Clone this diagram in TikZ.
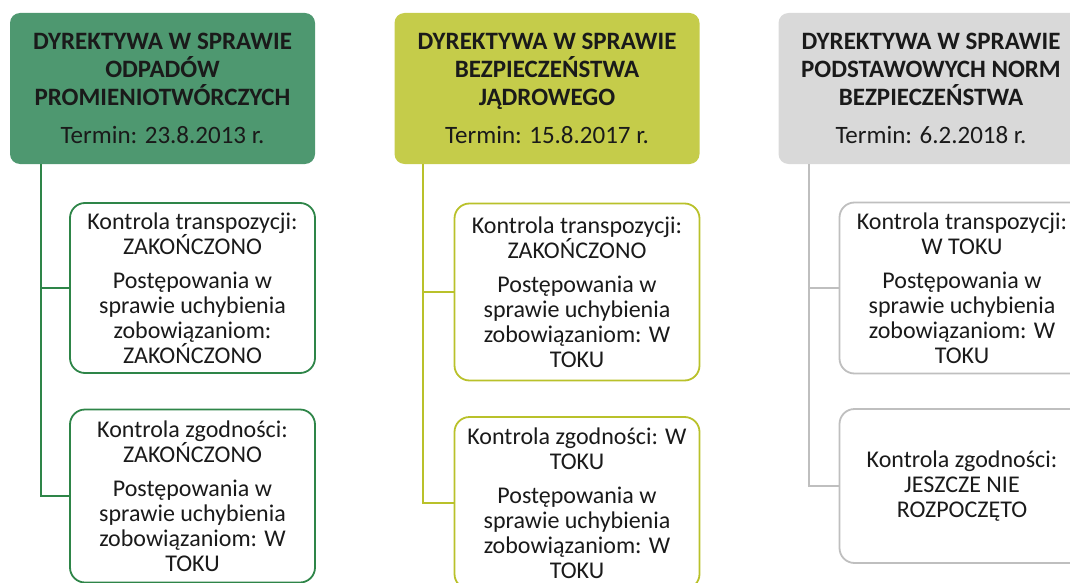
\documentclass[tikz,border=0pt]{standalone}
\usepackage{fontspec}
\setmainfont{Carlito}
\definecolor{gfill}{HTML}{4E9870}
\definecolor{gline}{HTML}{2E8548}
\definecolor{yfill}{HTML}{C5CC4A}
\definecolor{yline}{HTML}{B9C12A}
\definecolor{sfill}{HTML}{D9D9D9}
\definecolor{sline}{HTML}{BFBFBF}
\definecolor{txt}{HTML}{1A1A1A}
\tikzset{
  head/.style={rectangle, rounded corners=10pt, minimum width=305pt, minimum height=151pt, inner sep=0pt, align=center, text=txt,
    font=\fontsize{25}{28}\selectfont},
  child/.style={rectangle, rounded corners=15pt, minimum width=245pt, inner sep=0pt, align=center, text=txt, fill=white, line width=1.8pt,
    font=\fontsize{24}{25}\selectfont},
  conn/.style={line width=2pt},
}
\begin{document}
\begin{tikzpicture}[x=1pt,y=-1pt]
\useasboundingbox (0,0) rectangle (1070,583);
% column 1
\node[head, fill=gfill] (h1) at (162.5,88.5) {\textbf{DYREKTYWA W SPRAWIE}\\\textbf{ODPADÓW}\\\textbf{PROMIENIOTWÓRCZYCH}\\[10pt]Termin: 23.8.2013 r.};
\node[child, draw=gline, minimum height=170pt] (a1) at (192.5,288) {Kontrola transpozycji:\\ZAKOŃCZONO\\[9pt]Postępowania w\\sprawie uchybienia\\zobowiązaniom:\\ZAKOŃCZONO};
\node[child, draw=gline, minimum height=173pt] (b1) at (192.5,496) {Kontrola zgodności:\\ZAKOŃCZONO\\[9pt]Postępowania w\\sprawie uchybienia\\zobowiązaniom: W\\TOKU};
\draw[conn, gline] ([xshift=31pt]h1.south west) |- (a1.west);
\draw[conn, gline] ([xshift=31pt]h1.south west) |- (b1.west);
% column 2
\node[head, fill=yfill] (h2) at (547,88.5) {\textbf{DYREKTYWA W SPRAWIE}\\\textbf{BEZPIECZEŃSTWA}\\\textbf{JĄDROWEGO}\\[10pt]Termin: 15.8.2017 r.};
\node[child, draw=yline, minimum height=177pt] (a2) at (577,292) {Kontrola transpozycji:\\ZAKOŃCZONO\\[9pt]Postępowania w\\sprawie uchybienia\\zobowiązaniom: W\\TOKU};
\node[child, draw=yline, minimum height=172pt] (b2) at (577,503) {Kontrola zgodności: W\\TOKU\\[9pt]Postępowania w\\sprawie uchybienia\\zobowiązaniom: W\\TOKU};
\draw[conn, yline] ([xshift=29pt]h2.south west) |- (a2.west);
\draw[conn, yline] ([xshift=29pt]h2.south west) |- (b2.west);
% column 3
\node[head, fill=sfill] (h3) at (931,88.5) {\textbf{DYREKTYWA W SPRAWIE}\\\textbf{PODSTAWOWYCH NORM}\\\textbf{BEZPIECZEŃSTWA}\\[10pt]Termin: 6.2.2018 r.};
\node[child, draw=sline, minimum height=171pt] (a3) at (962,288) {Kontrola transpozycji:\\W TOKU\\[9pt]Postępowania w\\sprawie uchybienia\\zobowiązaniom: W\\TOKU};
\node[child, draw=sline, minimum height=154pt] (b3) at (962,486) {Kontrola zgodności:\\JESZCZE NIE\\ROZPOCZĘTO};
\draw[conn, sline] ([xshift=31pt]h3.south west) |- (a3.west);
\draw[conn, sline] ([xshift=31pt]h3.south west) |- (b3.west);
\end{tikzpicture}
\end{document}
